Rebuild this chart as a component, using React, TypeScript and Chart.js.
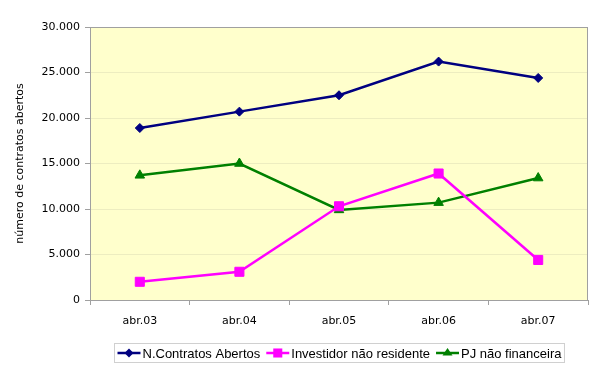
import React, { useEffect, useRef } from "react";
import { Chart, registerables } from "chart.js";

Chart.register(...registerables);

const categories = ["abr.03", "abr.04", "abr.05", "abr.06", "abr.07"];
const contratosAbertos = [18900, 20700, 22500, 26200, 24400];
const investidorNaoResidente = [2000, 3100, 10300, 13900, 4400];
const pjNaoFinanceira = [13700, 15000, 9900, 10700, 13400];
const seriesNames = ["N.Contratos Abertos", "Investidor não residente", "PJ não financeira"];
const seriesColors = ["#000080", "#FF00FF", "#008000"];
const yTitle = "número de contratos abertos";

const fmt = (v: number) => String(v).replace(/\B(?=(\d{3})+(?!\d))/g, ".");

const bgPlugin = {
  id: "bgPlugin",
  beforeDraw(chart: any) {
    const { ctx, chartArea: a } = chart;
    ctx.save();
    ctx.fillStyle = "#FFFFCC";
    ctx.fillRect(a.left, a.top, a.right - a.left, a.bottom - a.top);
    ctx.restore();
  },
  afterDatasetsDraw(chart: any) {
    const { ctx, chartArea: a } = chart;
    ctx.save();
    ctx.strokeStyle = "#A0A0A0";
    ctx.lineWidth = 1;
    ctx.strokeRect(a.left + 0.5, a.top + 0.5, a.right - a.left - 1, a.bottom - a.top);
    ctx.restore();
  },
};

function drawMarker(ctx: CanvasRenderingContext2D, style: string, r: number, x: number, y: number, color: string) {
  ctx.save();
  ctx.fillStyle = color;
  ctx.beginPath();
  if (style === "rectRot") {
    ctx.moveTo(x, y - r);
    ctx.lineTo(x + r, y);
    ctx.lineTo(x, y + r);
    ctx.lineTo(x - r, y);
    ctx.closePath();
  } else if (style === "rect") {
    const s = r * Math.SQRT1_2;
    ctx.rect(x - s, y - s, 2 * s, 2 * s);
  } else {
    const h = r * 1.5;
    ctx.moveTo(x, y - r);
    ctx.lineTo(x + r, y + h - r);
    ctx.lineTo(x - r, y + h - r);
    ctx.closePath();
  }
  ctx.fill();
  ctx.restore();
}

const legendPlugin = {
  id: "customLegend",
  afterDraw(chart: any) {
    const { ctx, chartArea: a } = chart;
    ctx.save();
    ctx.font = "13px 'Liberation Sans', Arial, sans-serif";
    ctx.textBaseline = "middle";
    const iconW = 23;
    const gapIconText = 2;
    const gapItems = 6;
    const widths = seriesNames.map((n) => ctx.measureText(n).width);
    let total = 0;
    widths.forEach((w, i) => {
      total += iconW + gapIconText + w + (i < widths.length - 1 ? gapItems : 0);
    });
    const padX = 3;
    const boxW = total + padX * 2;
    const cx = (a.left + a.right) / 2;
    const boxX = Math.round(cx - boxW / 2) + 0.5;
    const boxY = 343.5;
    const boxH = 19;
    ctx.fillStyle = "#FFFFFF";
    ctx.fillRect(boxX, boxY, boxW, boxH);
    ctx.strokeStyle = "#D0D0D0";
    ctx.lineWidth = 1;
    ctx.strokeRect(boxX, boxY, boxW, boxH);
    const cy = boxY + boxH / 2;
    let x = boxX + padX;
    const styles = ["rectRot", "rect", "triangle"];
    const radii = [4.5, 6.4, 5];
    seriesNames.forEach((name, i) => {
      ctx.strokeStyle = seriesColors[i];
      ctx.lineWidth = 2.5;
      ctx.beginPath();
      ctx.moveTo(x, cy);
      ctx.lineTo(x + iconW, cy);
      ctx.stroke();
      drawMarker(ctx, styles[i], radii[i], x + iconW / 2, cy, seriesColors[i]);
      x += iconW + gapIconText;
      ctx.fillStyle = "#000000";
      ctx.fillText(name, x, cy + 1);
      x += widths[i] + gapItems;
    });
    ctx.restore();
  },
};

export default function App() {
  const ref = useRef<HTMLCanvasElement | null>(null);
  useEffect(() => {
    document.body.style.margin = "0";
    const canvas = ref.current!;
    const tickFont = { family: "'DejaVu Sans', Verdana, sans-serif", size: 11 };
    const chart = new Chart(canvas, {
      type: "line",
      data: {
        labels: categories,
        datasets: [
          {
            label: seriesNames[0],
            data: contratosAbertos,
            borderColor: seriesColors[0],
            backgroundColor: seriesColors[0],
            borderWidth: 2.5,
            pointStyle: "rectRot",
            pointRadius: 4.5,
            pointBorderWidth: 1,
          },
          {
            label: seriesNames[1],
            data: investidorNaoResidente,
            borderColor: seriesColors[1],
            backgroundColor: seriesColors[1],
            borderWidth: 2.5,
            pointStyle: "rect",
            pointRadius: 6.4,
            pointBorderWidth: 1,
          },
          {
            label: seriesNames[2],
            data: pjNaoFinanceira,
            borderColor: seriesColors[2],
            backgroundColor: seriesColors[2],
            borderWidth: 2.5,
            pointStyle: "triangle",
            pointRadius: 5.5,
            pointBorderWidth: 1,
          },
        ],
      },
      options: {
        animation: false,
        responsive: false,
        devicePixelRatio: 1,
        layout: { padding: { left: 0, right: 18, top: 27, bottom: 0 } },
        plugins: { legend: { display: false }, tooltip: { enabled: false } },
        scales: {
          x: {
            offset: true,
            grid: { offset: true, drawOnChartArea: false, tickLength: 5, tickColor: "#A0A0A0", color: "#A0A0A0" },
            border: { color: "#A0A0A0" },
            ticks: { font: tickFont, color: "#000", padding: 10, maxRotation: 0 },
            afterFit: (s: any) => {
              s.height = 77;
            },
          },
          y: {
            min: 0,
            max: 30000,
            grid: { color: "#EDEDC0", tickLength: 5, tickColor: "#A0A0A0" },
            border: { color: "#A0A0A0" },
            ticks: {
              stepSize: 5000,
              font: tickFont,
              color: "#000",
              padding: 5,
              callback: (v: any) => fmt(Number(v)),
            },
            title: {
              display: true,
              text: yTitle,
              font: tickFont,
              color: "#000",
              padding: { top: 14, bottom: 0 },
            },
            afterFit: (s: any) => {
              s.width = 90;
            },
          },
        },
      },
      plugins: [bgPlugin, legendPlugin],
    } as any);
    return () => chart.destroy();
  }, []);
  return <canvas ref={ref} width={606} height={377} style={{ display: "block" }} />;
}
